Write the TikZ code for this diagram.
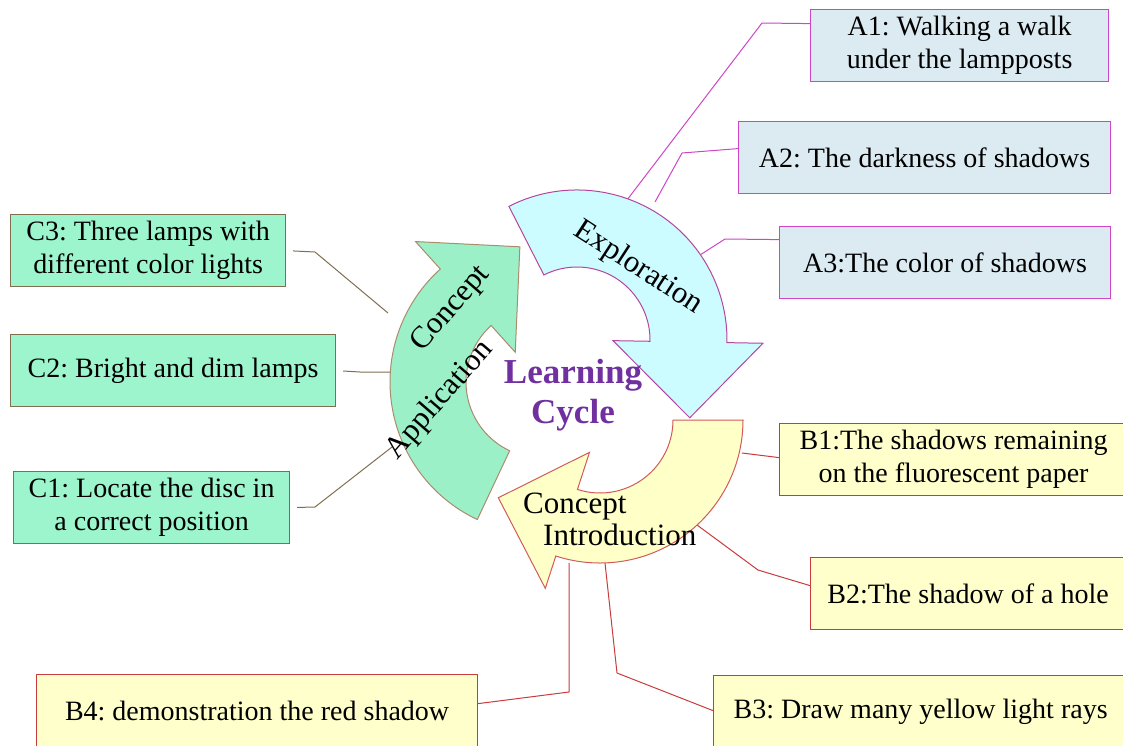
\documentclass[tikz,border=0pt]{standalone}
\usepackage{fontspec}
\setmainfont{Liberation Serif}
\usetikzlibrary{calc}
\frenchspacing

\definecolor{afill}{RGB}{220,235,242}
\definecolor{aline}{RGB}{205,70,200}
\definecolor{exfill}{RGB}{204,252,255}
\definecolor{exedge}{RGB}{180,70,160}
\definecolor{bfill}{RGB}{255,255,204}
\definecolor{bline}{RGB}{200,60,60}
\definecolor{infill}{RGB}{255,255,200}
\definecolor{inedge}{RGB}{210,90,90}
\definecolor{cfill}{RGB}{156,245,204}
\definecolor{cline}{RGB}{128,110,80}
\definecolor{apfill}{RGB}{156,240,200}
\definecolor{apedge}{RGB}{170,140,110}
\definecolor{cyclepurple}{RGB}{112,48,160}

\tikzset{
  box/.style={draw, line width=1.2pt, anchor=north west, minimum height=72pt,
    align=center, inner sep=2pt, font=\fontsize{28}{33}\selectfont},
  abox/.style={box, draw=aline, fill=afill},
  bbox/.style={box, draw=bline, fill=bfill},
  cbox/.style={box, draw=cline, fill=cfill},
  link/.style={line width=1pt},
  alink/.style={link, draw=aline},
  blink/.style={link, draw=bline},
  clink/.style={link, draw=cline, shorten <=7pt},
  cyc/.style={line width=1pt},
  cyctext/.style={font=\fontsize{31}{34}\selectfont, inner sep=0pt},
}

\begin{document}
\begin{tikzpicture}[x=1pt, y=-1pt]
  \useasboundingbox (0,0) rectangle (1123,745);

  % centres of the three arrows
  \coordinate (exc) at (577,340);
  \coordinate (inc) at (600,420);
  \coordinate (apc) at (542,382);

  % boxes
  \node[abox, minimum width=298pt] (a1) at (810,9) {A1: Walking a walk\\under the lampposts};
  \node[abox, minimum width=372pt] (a2) at (738,121) {A2: The darkness of shadows};
  \node[abox, minimum width=331pt] (a3) at (779,226) {A3:The color of shadows};
  \node[bbox, minimum width=348pt] (b1) at (779,423) {B1:The shadows remaining\\on the fluorescent paper};
  \node[bbox, minimum width=315pt] (b2) at (810,557) {B2:The shadow of a hole};
  \node[bbox, minimum width=414pt] (b3) at (713,675) {B3: Draw many yellow light rays};
  \node[bbox, minimum width=441pt] (b4) at (36,674) {B4: demonstration the red shadow};
  \node[cbox, minimum width=275pt] (c3) at (10,214) {C3: Three lamps with\\different color lights};
  \node[cbox, minimum width=325pt] (c2) at (10,334) {C2: Bright and dim lamps};
  \node[cbox, minimum width=276pt] (c1) at (13,471) {C1: Locate the disc in\\a correct position};

  % ends of the links on the arrows
  \coordinate (pA1) at (627,200);
  \coordinate (pA2) at (655,202);
  \coordinate (pA3) at (700,255);
  \coordinate (pB1) at (742,453);
  \coordinate (pB2) at (697,525);
  \coordinate (pB3) at (605,563);
  \coordinate (pB4) at (569,563);
  \coordinate (pC3) at (388,313);
  \coordinate (pC2) at (392,372);
  \coordinate (pC1) at (392,447);

  % links
  \draw[alink] (pA1) -- (762,23) -- ([yshift=22pt]a1.west);
  \draw[alink] (pA2) -- (682,153) -- ([yshift=9pt]a2.west);
  \draw[alink] (pA3) -- (725,239) -- ([yshift=23pt]a3.west);
  \draw[blink] (pB1) -- ([yshift=2pt]b1.west);
  \draw[blink] (pB2) -- (758,570) -- ([yshift=8pt]b2.west);
  \draw[blink] (pB3) -- (617,673) -- ([yshift=1pt]b3.west);
  \draw[blink] (pB4) -- (569,692) -- ([yshift=7pt]b4.east);
  \draw[clink] (c3.east) -- (315,252) -- (pC3);
  \draw[clink] (c2.east) -- (360,372) -- (pC2);
  \draw[clink] (c1.east) -- (315,507) -- (pC1);

  % concept application arrow
  \draw[cyc, draw=apedge, fill=apfill]
    ($(apc)+(244.8:152pt)$) arc[start angle=244.8, end angle=132, radius=152pt]
    -- ($(apc)+(132:189pt)$) -- ($(apc)+(99.3:137pt)$) -- ($(apc)+(132:40pt)$)
    -- ($(apc)+(132:76pt)$) arc[start angle=132, end angle=244.8, radius=76pt] -- cycle;
  % concept introduction arrow
  \draw[cyc, draw=inedge, fill=infill]
    ($(inc)+(0:143pt)$) arc[start angle=0, end angle=-108, radius=143pt]
    -- ($(inc)+(-108:177pt)$) -- ($(inc)+(-142.6:128pt)$) -- ($(inc)+(-108:34pt)$)
    -- ($(inc)+(-108:73pt)$) arc[start angle=-108, end angle=0, radius=73pt] -- cycle;
  % exploration arrow
  \draw[cyc, draw=exedge, fill=exfill]
    ($(exc)+(117:150pt)$) arc[start angle=117, end angle=-1, radius=150pt]
    -- ($(exc)+(-1:186pt)$) -- ($(exc)+(-34.6:137pt)$) -- ($(exc)+(-1:36pt)$)
    -- ($(exc)+(-1:73pt)$) arc[start angle=-1, end angle=117, radius=73pt] -- cycle;

  % arrow labels
  \node[cyctext, rotate=-33] (explo) at (638,268) {Exploration};
  \node[cyctext, anchor=base west] (intro1) at (523,513) {Concept};
  \node[cyctext, anchor=base west] (intro2) at (543,545) {Introduction};
  \node[cyctext, rotate=49] (appl1) at (451,309) {Concept};
  \node[cyctext, rotate=49] (appl2) at (440,400) {Application};
  \node[inner sep=0pt, align=center, text=cyclepurple,
    font=\fontsize{35}{40}\selectfont\bfseries] (cycle) at (573,395) {Learning\\Cycle};
\end{tikzpicture}
\end{document}
